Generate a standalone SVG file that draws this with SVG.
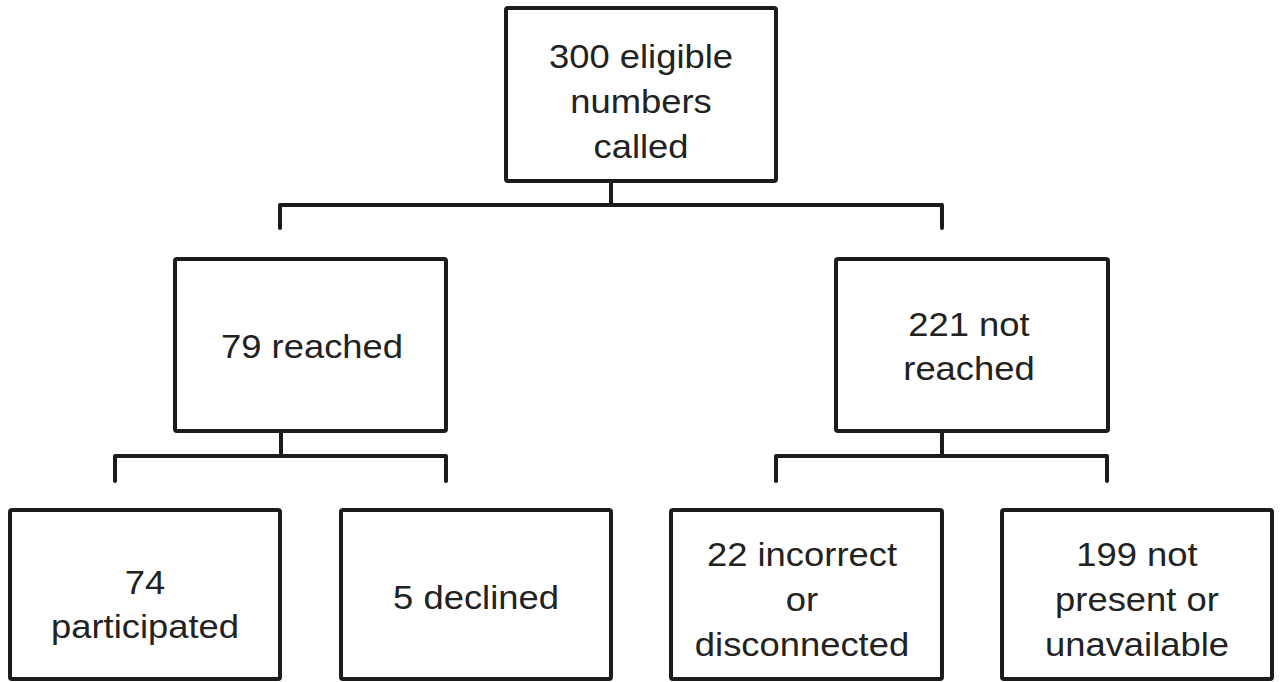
<svg xmlns="http://www.w3.org/2000/svg" width="1280" height="682" viewBox="0 0 1280 682">
<style>
.box{fill:#fff;stroke:#1c1c1c;stroke-width:4;stroke-linejoin:round}
.conn{fill:none;stroke:#1c1c1c;stroke-width:4;stroke-linecap:round;stroke-linejoin:round}
text{font-family:"Liberation Sans",Arial,sans-serif;font-size:34px;fill:#222;text-anchor:middle}
</style>
<rect width="1280" height="682" fill="#fff"/>
<g id="connectors">
<path class="conn" d="M611 181 V205 M280 228 V205 H942 V228"/>
<path class="conn" d="M281 431 V456 M115 481 V456 H446 V481"/>
<path class="conn" d="M942 431 V456 M776 481 V456 H1107 V481"/>
</g>
<g id="n-called">
<rect class="box" x="506" y="8" width="270" height="173" rx="2"/>
<text transform="matrix(1.07 0 0 1 641 0)"><tspan x="0" y="68">300 eligible</tspan><tspan x="0" y="113">numbers</tspan><tspan x="0" y="158">called</tspan></text>
</g>
<g id="n-reached">
<rect class="box" x="175" y="259" width="271" height="172" rx="2"/>
<text transform="matrix(1.07 0 0 1 312 0)" x="0" y="358">79 reached</text>
</g>
<g id="n-notreached">
<rect class="box" x="836" y="259" width="272" height="172" rx="2"/>
<text transform="matrix(1.07 0 0 1 969 0)"><tspan x="0" y="336">221 not</tspan><tspan x="0" y="380">reached</tspan></text>
</g>
<g id="n-participated">
<rect class="box" x="10" y="510" width="270" height="169" rx="2"/>
<text transform="matrix(1.07 0 0 1 145 0)"><tspan x="0" y="594">74</tspan><tspan x="0" y="638">participated</tspan></text>
</g>
<g id="n-declined">
<rect class="box" x="341" y="510" width="270" height="169" rx="2"/>
<text transform="matrix(1.07 0 0 1 476 0)" x="0" y="609">5 declined</text>
</g>
<g id="n-incorrect">
<rect class="box" x="671" y="510" width="271" height="169" rx="2"/>
<text transform="matrix(1.07 0 0 1 802 0)"><tspan x="0" y="566">22 incorrect</tspan><tspan x="0" y="611">or</tspan><tspan x="0" y="656">disconnected</tspan></text>
</g>
<g id="n-unavailable">
<rect class="box" x="1002" y="510" width="270" height="169" rx="2"/>
<text transform="matrix(1.07 0 0 1 1137 0)"><tspan x="0" y="566">199 not</tspan><tspan x="0" y="611">present or</tspan><tspan x="0" y="656">unavailable</tspan></text>
</g>
</svg>
